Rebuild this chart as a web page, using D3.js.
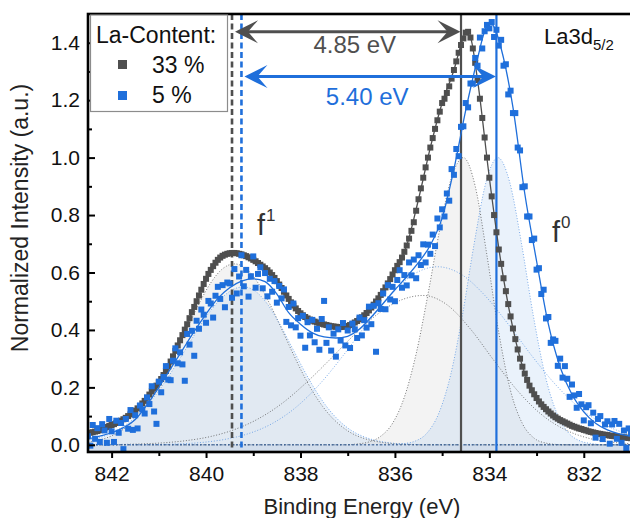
<!DOCTYPE html>
<html>
<head>
<meta charset="utf-8">
<script src="https://cdn.jsdelivr.net/npm/d3@7"></script>
<style>
  body { margin: 0; background: #fff; }
  svg { display: block; font-family: "Liberation Sans", Arial, sans-serif; }
</style>
</head>
<body>
<svg id="chart" width="630" height="518"></svg>
<script>
// measured spectra share one energy grid: 842.50 eV down to 831.00 eV
const eStart = 842.5;
const eStep = 0.05;

// La-Content 33 % (normalized intensity, one value per grid point)
const la33 = [
  0.040,0.042,0.044,0.046,0.048,0.051,0.054,0.058,0.062,0.066,
  0.069,0.072,0.076,0.080,0.084,0.089,0.094,0.100,0.106,0.112,
  0.119,0.127,0.135,0.144,0.153,0.164,0.175,0.186,0.196,0.206,
  0.217,0.229,0.243,0.257,0.273,0.290,0.308,0.327,0.346,0.364,
  0.382,0.401,0.420,0.441,0.462,0.480,0.500,0.520,0.540,0.560,
  0.578,0.595,0.609,0.622,0.634,0.644,0.652,0.658,0.662,0.665,
  0.667,0.668,0.668,0.667,0.665,0.663,0.660,0.657,0.653,0.649,
  0.644,0.639,0.633,0.627,0.621,0.615,0.608,0.600,0.591,0.581,
  0.570,0.558,0.546,0.533,0.520,0.508,0.496,0.485,0.475,0.466,
  0.458,0.451,0.445,0.440,0.436,0.432,0.429,0.426,0.424,0.421,
  0.419,0.417,0.415,0.413,0.412,0.411,0.410,0.410,0.411,0.412,
  0.414,0.417,0.421,0.426,0.431,0.437,0.444,0.451,0.459,0.468,
  0.478,0.488,0.499,0.510,0.522,0.535,0.548,0.562,0.577,0.593,
  0.608,0.623,0.636,0.652,0.672,0.694,0.718,0.745,0.775,0.815,
  0.855,0.893,0.930,0.966,1.000,1.035,1.068,1.100,1.130,1.160,
  1.190,1.205,1.225,1.248,1.275,1.305,1.335,1.365,1.392,1.415,
  1.435,1.438,1.418,1.380,1.330,1.270,1.205,1.138,1.070,1.000,
  0.930,0.865,0.800,0.740,0.680,0.630,0.580,0.535,0.490,0.447,
  0.405,0.368,0.332,0.300,0.272,0.248,0.226,0.206,0.190,0.176,
  0.163,0.151,0.141,0.132,0.124,0.116,0.109,0.102,0.096,0.091,
  0.086,0.082,0.078,0.074,0.070,0.066,0.063,0.060,0.057,0.055,
  0.052,0.050,0.047,0.045,0.043,0.041,0.039,0.038,0.036,0.035,
  0.034,0.032,0.031,0.030,0.029,0.028,0.027,0.026,0.025,0.024,
  0.023
];

// La-Content 5 %
const la5 = [
  0.030,-0.003,0.069,0.021,0.058, 0.010,0.072,0.050,0.007,0.090,
  0.047,0.010,0.084,0.042,0.076, -0.015,0.090,0.056,0.121,0.052,
  0.103,0.057,0.137,0.123,0.109, 0.165,0.142,0.204,0.116,0.073,
  0.220,0.183,0.236,0.274,0.227, 0.225,0.293,0.336,0.284,0.322,
  0.280,0.223,0.386,0.349,0.397, 0.310,0.432,0.404,0.471,0.453,
  0.425,0.501,0.492,0.443,0.519, 0.550,0.508,0.556,0.479,0.565,
  0.562,0.512,0.612,0.527,0.586, 0.660,0.552,0.609,0.516,0.587,
  0.656,0.547,0.595,0.618,0.545, 0.598,0.517,0.578,0.533,0.570,
  0.495,0.553,0.510,0.541,0.428, 0.480,0.416,0.492,0.409,0.441,
  0.380,0.449,0.338,0.427,0.381, 0.435,0.357,0.404,0.331,0.438,
  0.501,0.355,0.409,0.328,0.387, 0.307,0.402,0.363,0.424,0.346,
  0.398,0.337,0.422,0.402,0.372, 0.443,0.381,0.434,0.408,0.481,
  0.420,0.484,0.324,0.493,0.473, 0.527,0.472,0.556,0.506,0.550,
  0.500,0.574,0.608,0.547,0.591, 0.555,0.635,0.590,0.645,0.580,
  0.660,0.626,0.698,0.635,0.697, 0.665,0.732,0.692,0.788,0.757,
  0.820,0.795,0.875,0.850,0.960, 0.940,1.030,1.005,1.107,1.109,
  1.190,1.175,1.258,1.258,1.347, 1.320,1.418,1.380,1.440,1.462,
  1.450,1.472,1.420,1.445,1.390, 1.410,1.320,1.325,1.220,1.233,
  1.155,1.155,1.035,1.025,0.897, 0.900,0.795,0.795,0.713,0.718,
  0.610,0.615,0.525,0.540,0.440, 0.445,0.355,0.367,0.362,0.275,
  0.300,0.234,0.274,0.230,0.167, 0.210,0.172,0.129,0.177,0.141,
  0.085,0.131,0.138,0.075,0.112, 0.025,0.090,0.100,0.020,0.071,
  0.082,0.004,0.071,0.083,0.021, 0.073,0.007,0.050,-0.011,0.057,
  0.040
];

// envelope fits [eV, intensity]
const fit33 = [[842.5,.040],[842.25,.051],[842,.069],[841.75,.089],[841.5,.119],[841.25,.164],
  [841,.217],[840.75,.290],[840.5,.382],[840.25,.482],[840,.578],[839.75,.644],[839.5,.667],
  [839.25,.663],[839,.644],[838.75,.615],[838.5,.570],[838.25,.508],[838,.458],[837.75,.432],
  [837.5,.419],[837.25,.411],[837,.414],[836.75,.437],[836.5,.478],[836.25,.535],[836,.608],
  [835.75,.694],[835.5,.855],[835.25,1.035],[835,1.190],[834.75,1.305],[834.6,1.392],[834.5,1.435],
  [834.4,1.418],[834.25,1.270],[834,.930],[833.75,.630],[833.5,.405],[833.25,.248],[833,.163],
  [832.75,.116],[832.5,.086],[832.25,.066],[832,.052],[831.75,.041],[831.5,.034],[831.25,.028],[831,.023]];
const fit5 = [[842.5,.020],[842.25,.030],[842,.042],[841.75,.060],[841.5,.088],[841.25,.140],
  [841,.200],[840.75,.265],[840.5,.330],[840.25,.395],[840,.455],[839.75,.510],[839.5,.547],
  [839.25,.570],[839,.578],[838.75,.568],[838.5,.525],[838.25,.460],[838,.420],[837.75,.390],
  [837.5,.376],[837.25,.372],[837,.378],[836.75,.403],[836.5,.445],[836.25,.492],[836,.540],
  [835.75,.585],[835.5,.635],[835.25,.695],[835,.790],[834.75,.960],[834.5,1.165],[834.25,1.345],
  [834.1,1.440],[834,1.470],[833.9,1.455],[833.75,1.380],[833.5,1.175],[833.25,.875],[833,.640],
  [832.75,.420],[832.5,.270],[832.25,.175],[832,.115],[831.75,.075],[831.5,.052],[831.25,.038],[831,.030]];

// fitted components
const la33F1 = [[842.5,.009],[842.4,.012],[842.15,.022],[841.9,.039],[841.65,.067],[841.4,.107],
  [841.15,.162],[840.9,.232],[840.65,.315],[840.4,.404],[840.15,.491],[839.9,.564],[839.65,.613],
  [839.4,.630],[839.15,.613],[838.9,.564],[838.65,.491],[838.4,.404],[838.15,.315],[837.9,.232],
  [837.65,.162],[837.4,.107],[837.15,.067],[836.9,.039],[836.65,.022],[836.4,.012],[836.15,.006],
  [835.9,.003],[835.4,0],[831,0]];
const la33Mid = [[842.5,0],[841.9,.001],[841.4,.003],[840.9,.007],[840.4,.015],[839.9,.029],
  [839.4,.053],[838.9,.090],[838.4,.143],[837.9,.213],[837.4,.293],[836.9,.377],[836.4,.451],
  [835.9,.502],[835.4,.520],[834.9,.488],[834.4,.403],[833.9,.293],[833.4,.188],[832.9,.106],
  [832.4,.053],[831.9,.023],[831.4,.009],[831,.004]];
const la33F0 = [[842.5,0],[837.05,0],[836.8,.003],[836.55,.010],[836.3,.030],[836.05,.075],
  [835.8,.166],[835.55,.317],[835.3,.524],[835.05,.750],[834.8,.931],[834.55,1],[834.3,.901],
  [834.05,.659],[833.8,.391],[833.55,.188],[833.3,.074],[833.05,.023],[832.8,.006],[832.55,.001],
  [832.3,0],[831,0]];
const la5F1 = [[842.5,.015],[842.2,.028],[841.95,.045],[841.7,.070],[841.45,.103],[841.2,.147],
  [840.95,.200],[840.7,.262],[840.45,.328],[840.2,.395],[839.95,.457],[839.7,.506],[839.45,.539],
  [839.2,.550],[838.95,.534],[838.7,.490],[838.45,.424],[838.2,.346],[837.95,.267],[837.7,.195],
  [837.45,.134],[837.2,.087],[836.95,.053],[836.7,.031],[836.45,.017],[836.2,.009],[835.7,.002],
  [835.2,0],[831,0]];
const la5Mid = [[842.5,0],[841.1,.001],[840.6,.003],[840.1,.008],[839.6,.019],[839.1,.039],
  [838.6,.074],[838.1,.130],[837.6,.210],[837.1,.310],[836.6,.420],[836.1,.521],[835.6,.594],
  [835.1,.620],[834.6,.594],[834.1,.521],[833.6,.420],[833.1,.310],[832.6,.210],[832.1,.130],
  [831.6,.074],[831.1,.039],[831,.034]];
const la5F0 = [[842.5,0],[836.07,0],[835.82,.004],[835.57,.013],[835.32,.041],[835.07,.110],
  [834.82,.243],[834.57,.451],[834.32,.702],[834.07,.915],[833.82,1],[833.57,.915],[833.32,.702],
  [833.07,.451],[832.82,.243],[832.57,.110],[832.32,.041],[832.07,.013],[831.82,.004],[831.57,0],[831,0]];

// f1 / f0 peak positions (eV) and their splitting labels
const peaks33 = [839.45, 834.60];
const peaks5 = [839.25, 833.85];
const split33 = "4.85 eV";
const split5 = "5.40 eV";

const xTicks = [842, 840, 838, 836, 834, 832];
const xMinor = [841, 839, 837, 835, 833];
const yTicks = [0, 0.2, 0.4, 0.6, 0.8, 1.0, 1.2, 1.4];
const yMinor = [0.1, 0.3, 0.5, 0.7, 0.9, 1.1, 1.3];

const legendLabels = ["33 %", "5 %"];

const grey = "#4f4f4f";
const blue = "#1f6fdb";

const plotL = 88, plotR = 631, plotT = 14, plotB = 452;

const svg = d3.select("#chart");
const x = d3.scaleLinear().domain([842.5, 831]).range([plotL, plotR]);
const y = d3.scaleLinear().domain([-0.025, 1.5]).range([plotB, plotT]);

svg.append("defs").append("clipPath").attr("id", "plot")
  .append("rect").attr("x", plotL).attr("y", plotT).attr("width", plotR - plotL).attr("height", plotB - plotT);

const plot = svg.append("g").attr("clip-path", "url(#plot)");

const area = d3.area().x(d => x(d[0])).y0(y(-0.025)).y1(d => y(d[1])).curve(d3.curveMonotoneX);
const line = d3.line().x(d => x(d[0])).y(d => y(d[1])).curve(d3.curveMonotoneX);

// component fills
[[la33F1, "#d8d8d8"], [la5F1, "#b9d3f3"], [la33F0, "#d8d8d8"], [la5F0, "#b9d3f3"]].forEach(([d, c]) => {
  plot.append("path").datum(d).attr("d", area).attr("fill", c).attr("fill-opacity", 0.3);
});

// component outlines
[[la33F1, "#555"], [la33Mid, "#555"], [la33F0, "#555"],
 [la5F1, "#5b96e2"], [la5Mid, "#5b96e2"], [la5F0, "#5b96e2"]].forEach(([d, c]) => {
  plot.append("path").datum(d).attr("d", line).attr("fill", "none")
    .attr("stroke", c).attr("stroke-width", 0.8).attr("stroke-dasharray", "1,1.8");
});

// background line
plot.append("line").attr("x1", plotL).attr("x2", plotR).attr("y1", y(0)).attr("y2", y(0))
  .attr("stroke", "#2b4f80").attr("stroke-width", 1).attr("stroke-dasharray", "2,2");

// peak markers
function peakLines(p, c) {
  plot.append("line").attr("x1", x(p[0])).attr("x2", x(p[0])).attr("y1", plotT).attr("y2", plotB)
    .attr("stroke", c).attr("stroke-width", 2.6).attr("stroke-dasharray", "6,3.5");
  plot.append("line").attr("x1", x(p[1])).attr("x2", x(p[1])).attr("y1", plotT).attr("y2", plotB)
    .attr("stroke", c).attr("stroke-width", 2.2);
}
peakLines(peaks33, grey);
peakLines(peaks5, blue);

const sq = 6;
function drawPoints(vals, c) {
  plot.append("g").selectAll("rect").data(vals).join("rect")
    .attr("x", (d, i) => x(eStart - i * eStep) - sq / 2)
    .attr("y", d => y(d) - sq / 2)
    .attr("width", sq).attr("height", sq)
    .attr("fill", c);
}

drawPoints(la33, grey);
plot.append("path").datum(fit33).attr("d", line).attr("fill", "none").attr("stroke", grey).attr("stroke-width", 1.3);
drawPoints(la5, blue);
plot.append("path").datum(fit5).attr("d", line).attr("fill", "none").attr("stroke", blue).attr("stroke-width", 1.3);

// double arrows showing the f1 - f0 splitting
function head(tx, ty, dir) {
  const L = 23, W = 11.5, N = 13;
  return `M${tx},${ty} L${tx - dir * L},${ty - W} L${tx - dir * N},${ty} L${tx - dir * L},${ty + W} Z`;
}
function splitArrow(p, yv, c, label, dx, dy) {
  const x1 = x(p[0]) + 3, x2 = x(p[1]) - 0.5, yy = y(yv);
  svg.append("line").attr("x1", x1 + 12).attr("x2", x2 - 12).attr("y1", yy).attr("y2", yy)
    .attr("stroke", c).attr("stroke-width", 3);
  svg.append("path").attr("d", head(x1, yy, -1)).attr("fill", c);
  svg.append("path").attr("d", head(x2, yy, 1)).attr("fill", c);
  svg.append("text").attr("x", (x1 + x2) / 2 + dx).attr("y", yy + dy)
    .attr("text-anchor", "middle").attr("font-size", 24).attr("fill", c).text(label);
}
splitArrow(peaks33, 1.438, grey, split33, 7, 21.5);
splitArrow(peaks5, 1.282, blue, split5, -3, 28.5);

// axes
svg.append("g").attr("transform", `translate(0,${plotB})`)
  .call(d3.axisBottom(x).tickValues(xTicks).tickSize(6).tickPadding(8).tickFormat(d3.format("d")));
svg.append("g").attr("transform", `translate(0,${plotB})`)
  .call(d3.axisBottom(x).tickValues(xMinor).tickSize(4).tickFormat(""));
svg.append("g").attr("transform", `translate(${plotL},0)`)
  .call(d3.axisLeft(y).tickValues(yTicks).tickSize(-7).tickPadding(8).tickFormat(d3.format(".1f")));
svg.append("g").attr("transform", `translate(${plotL},0)`)
  .call(d3.axisLeft(y).tickValues(yMinor).tickSize(-4).tickFormat(""));
svg.selectAll(".domain").remove();
svg.selectAll(".tick line").attr("stroke", "#000").attr("stroke-width", 2);
svg.selectAll(".tick text").attr("font-size", 21).attr("fill", "#111")
  .attr("font-family", "Liberation Sans, Arial, sans-serif");

svg.append("rect").attr("x", plotL).attr("y", plotT).attr("width", plotR - plotL + 20).attr("height", plotB - plotT)
  .attr("fill", "none").attr("stroke", "#000").attr("stroke-width", 2.6);

svg.append("text").attr("x", 362).attr("y", 514).attr("text-anchor", "middle")
  .attr("font-size", 22).attr("fill", "#222").text("Binding Energy (eV)");
svg.append("text").attr("transform", "translate(28,218) rotate(-90)").attr("text-anchor", "middle")
  .attr("font-size", 23).attr("fill", "#222").text("Normalized Intensity (a.u.)");

// legend
const lg = svg.append("g");
lg.append("rect").attr("x", 90.5).attr("y", 15).attr("width", 137).attr("height", 96.5)
  .attr("fill", "#fff").attr("stroke", "#8c8c8c").attr("stroke-width", 1.2);
lg.append("text").attr("x", 96).attr("y", 43).attr("font-size", 23).attr("fill", "#111").text("La-Content:");
[grey, blue].forEach((c, i) => {
  lg.append("rect").attr("x", 118).attr("y", 60 + i * 31).attr("width", 9).attr("height", 9).attr("fill", c);
  lg.append("text").attr("x", 152).attr("y", 73 + i * 30).attr("font-size", 23).attr("fill", "#111").text(legendLabels[i]);
});

// labels
const t = svg.append("text").attr("x", 544).attr("y", 44).attr("font-size", 22).attr("fill", "#111");
t.append("tspan").text("La3d");
t.append("tspan").attr("font-size", 15).attr("dy", 6).text("5/2");

function fLabel(xp, yp, sup) {
  const f = svg.append("text").attr("x", xp).attr("y", yp).attr("font-size", 29).attr("fill", "#333");
  f.append("tspan").text("f");
  f.append("tspan").attr("font-size", 17).attr("dy", -14).attr("dx", 1).text(sup);
}
fLabel(257, 235, "1");
fLabel(552, 242, "0");
</script>
</body>
</html>
